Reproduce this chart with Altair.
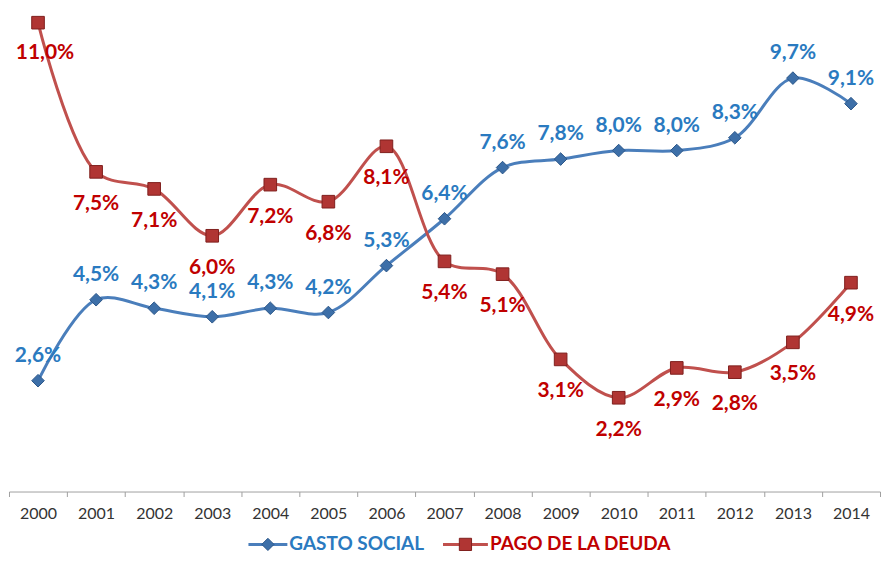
import altair as alt
import pandas as pd

# ---- data ----
years = [str(y) for y in range(2000, 2015)]
gasto_social = [2.6, 4.5, 4.3, 4.1, 4.3, 4.2, 5.3, 6.4, 7.6, 7.8, 8.0, 8.0, 8.3, 9.7, 9.1]
pago_deuda = [11.0, 7.5, 7.1, 6.0, 7.2, 6.8, 8.1, 5.4, 5.1, 3.1, 2.2, 2.9, 2.8, 3.5, 4.9]
series_names = ["GASTO SOCIAL", "PAGO DE LA DEUDA"]

# ---- styles ----
line_colors = ["#4A7EBB", "#C0504D"]
marker_fill = ["#3D6FA8", "#B03533"]
marker_stroke = ["#2B5689", "#7F1F1D"]
label_colors = ["#2A7AC0", "#C00000"]
FONT = "Lato"

rows = []
for name, vals in zip(series_names, [gasto_social, pago_deuda]):
    for y, v in zip(years, vals):
        rows.append({"year": y, "value": v, "serie": name,
                     "label": f"{v:.1f}%".replace(".", ",")})
df = pd.DataFrame(rows)

x = alt.X("year:O",
          scale=alt.Scale(type="band", paddingInner=0, paddingOuter=0),
          axis=alt.Axis(title=None, labelAngle=0, tickBand="extent", grid=False,
                        domainColor="#A0A0A0", tickColor="#A0A0A0", tickSize=5,
                        labelFont=FONT, labelFontSize=16, labelColor="#333333",
                        labelPadding=9))
y = alt.Y("value:Q", scale=alt.Scale(domain=[0, 11.33], nice=False, zero=True), axis=None)

base = alt.Chart(df).encode(x=x, y=y)

lines = base.mark_line(interpolate="catmull-rom", strokeWidth=3).encode(
    color=alt.Color("serie:N", scale=alt.Scale(domain=series_names, range=line_colors), legend=None)
)
points = base.mark_point(filled=True, size=160, opacity=1, strokeWidth=1).encode(
    shape=alt.Shape("serie:N", scale=alt.Scale(domain=series_names, range=["diamond", "square"]), legend=None),
    fill=alt.Fill("serie:N", scale=alt.Scale(domain=series_names, range=marker_fill), legend=None),
    stroke=alt.Stroke("serie:N", scale=alt.Scale(domain=series_names, range=marker_stroke), legend=None),
)

txt_style = dict(font=FONT, fontSize=21, fontWeight="bold", baseline="middle", align="center")
lbl_social = base.mark_text(dy=-25, color=label_colors[0], **txt_style).encode(text="label:N").transform_filter(
    alt.datum.serie == series_names[0])
lbl_deuda = base.mark_text(dy=32, color=label_colors[1], **txt_style).encode(text="label:N").transform_filter(
    (alt.datum.serie == series_names[1]) & (alt.datum.year != "2000"))
lbl_deuda_first = base.mark_text(dy=30, dx=7, color=label_colors[1], **txt_style).encode(text="label:N").transform_filter(
    (alt.datum.serie == series_names[1]) & (alt.datum.year == "2000"))

# ---- legend (drawn manually: line + marker + label) ----
LEG_Y = 537
def legend_item(i, x0, x1, shape, text_x):
    d = pd.DataFrame({"s": [series_names[i]]})
    c = alt.Chart(d)
    rule = c.mark_rule(strokeWidth=3, color=line_colors[i]).encode(
        x=alt.value(x0), x2=alt.value(x1), y=alt.value(LEG_Y))
    mk = c.mark_point(shape=shape, filled=True, size=150, opacity=1, fill=marker_fill[i],
                      stroke=marker_stroke[i], strokeWidth=1).encode(
        x=alt.value((x0 + x1) / 2), y=alt.value(LEG_Y))
    tx = c.mark_text(font=FONT, fontSize=19, fontWeight="bold", align="left", baseline="middle",
                     color=label_colors[i]).encode(
        x=alt.value(text_x), y=alt.value(LEG_Y), text="s:N")
    return [rule, mk, tx]

legend_layers = legend_item(0, 240, 279, "diamond", 281) + legend_item(1, 435, 480, "square", 482)

chart = alt.layer(lines, points, lbl_social, lbl_deuda, lbl_deuda_first, *legend_layers).properties(
    width=873, height=484, padding=0
).configure_view(stroke=None)

chart.save("out.html", embed_options={"renderer": "svg", "actions": False})
